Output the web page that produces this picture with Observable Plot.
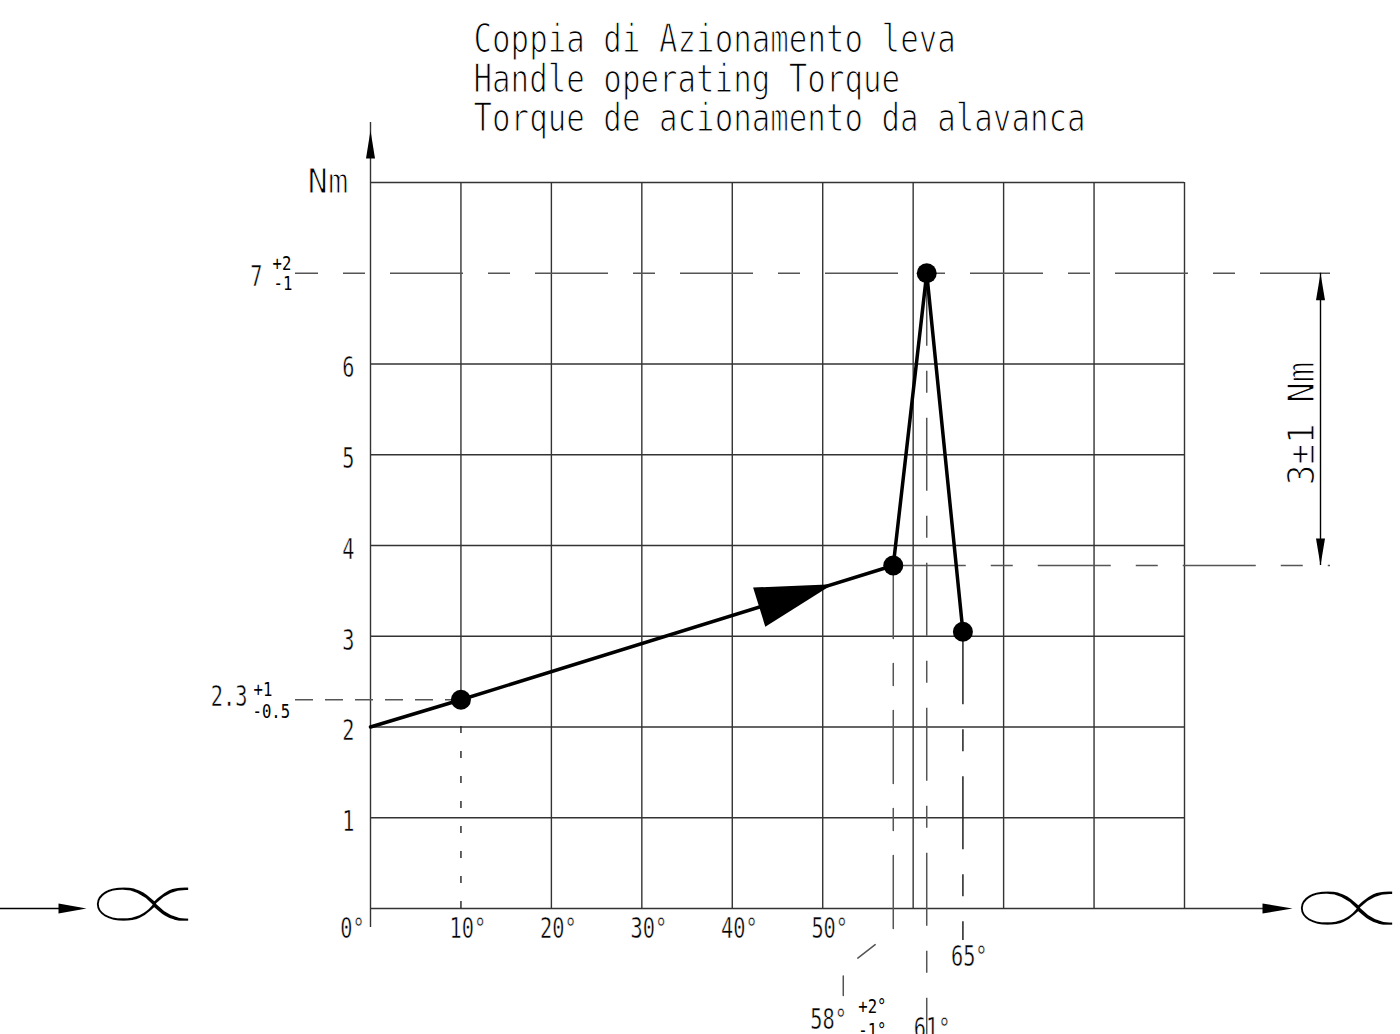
<!DOCTYPE html>
<html><head><meta charset="utf-8">
<script src="https://cdn.jsdelivr.net/npm/d3@7"></script>
<script src="https://cdn.jsdelivr.net/npm/@observablehq/plot@0.6"></script>
<style>html,body{margin:0;padding:0;overflow:hidden;background:#fff}</style>
</head><body><div id="chart"></div>
<script>
// ---- data ----
const titleLines = ["Coppia di Azionamento leva", "Handle operating Torque", "Torque de acionamento da alavanca"];
const angleGrid = [0, 10, 20, 30, 40, 50, 60, 70, 80, 90];
const torqueGrid = [0, 1, 2, 3, 4, 5, 6, 7, 8];
const angleTicks = [10, 20, 30, 40, 50];
const torqueTicks = [1, 2, 3, 4, 5, 6];
const curveAngle = [0, 10, 57.8, 61.5, 65.5];
const curveTorque = [2, 2.3, 3.78, 7, 3.05];
const keyAngleLabels = ["58°", "61°", "65°"];
const angleTol = ["+2°", "-1°"];
const peakLabel = "7", peakTol = ["+2", "-1"];
const lowLabel = "2.3", lowTol = ["+1", "-0.5"];
const torqueUnit = "Nm";
const bandLabel = "3±1 Nm";
const alphaSymbol = "∝";

// ---- layout ----
const W = 1400, H = 1034, mL = 370, mR = 216, mT = 182, mB = 126;
const xDom = [0, 90], yDom = [0, 8];
const kx = (W - mL - mR) / (xDom[1] - xDom[0]);
const ky = (H - mT - mB) / (yDom[1] - yDom[0]);
const offX = (v, px) => v + px / kx;      // shift a data x by px pixels (right +)
const offY = (v, px) => v - px / ky;      // shift a data y by px pixels (down +)

const pts = curveAngle.map((a, i) => ({a, t: curveTorque[i]}));
const [p0, p10, p58, p61, p65] = pts;

function head(theta, L, Wd) {
  const c = Math.cos(theta), s = Math.sin(theta);
  return {draw(ctx) {
    ctx.moveTo(0, 0);
    ctx.lineTo(-L * c - Wd * s, -L * s + Wd * c);
    ctx.lineTo(-L * c + Wd * s, -L * s - Wd * c);
    ctx.closePath();
  }};
}
// flow arrow on the rising segment
const fr = 0.86;
const flowTip = {a: p10.a + fr * (p58.a - p10.a), t: p10.t + fr * (p58.t - p10.t)};
const flowTheta = Math.atan2(-(p58.t - p10.t) * ky, (p58.a - p10.a) * kx);

const gridC = "#333", leadC = "#555";
const chain = "73 25 22 25";
const dimX = offX(90, 136);
const leadEnd = offX(90, 146);
const leftStart = offX(0, -75);

const plot = Plot.plot({
  width: W, height: H,
  marginLeft: mL, marginRight: mR, marginTop: mT, marginBottom: mB,
  x: {domain: xDom},
  y: {domain: yDom},
  style: {fontFamily: "'DejaVu Sans Mono', monospace", fontSize: "29px", background: "white", color: "black"},
  marks: [
    // grid (the peak level is shown by its dashed leader instead of a grid line)
    Plot.ruleX(angleGrid.filter(a => a !== 0), {x: d => d, y1: d => d === p10.a ? p10.t : 0, y2: yDom[1], stroke: gridC, strokeWidth: 1.4}),
    Plot.ruleY(torqueGrid.filter(t => t !== p61.t), {y: d => d, x1: xDom[0], x2: xDom[1], stroke: gridC, strokeWidth: 1.4}),
    // axes extensions
    Plot.ruleX([0], {y1: offY(0, 19), y2: offY(yDom[1], -60), stroke: gridC, strokeWidth: 1.4}),
    Plot.ruleY([0], {x1: xDom[1], x2: offX(xDom[1], 100), stroke: gridC, strokeWidth: 1.4}),
    Plot.ruleY([0], {x1: offX(0, -370), x2: offX(0, -290), stroke: "black", strokeWidth: 1.4}),
    Plot.dot([{x: 0, y: offY(yDom[1], -52)}], {x: "x", y: "y", symbol: head(-Math.PI / 2, 28, 4.5), fill: "black"}),
    Plot.dot([{x: offX(xDom[1], 108), y: 0}], {x: "x", y: "y", symbol: head(0, 30, 5), fill: "black"}),
    Plot.dot([{x: offX(0, -284), y: 0}], {x: "x", y: "y", symbol: head(0, 28, 5), fill: "black"}),
    // leader lines
    Plot.ruleY([p61.t], {x1: leftStart, x2: leadEnd, stroke: leadC, strokeWidth: 1.5, strokeDasharray: chain, strokeDashoffset: 50}),
    Plot.ruleY([p58.t], {x1: p58.a, x2: leadEnd, stroke: leadC, strokeWidth: 1.5, strokeDasharray: chain}),
    Plot.ruleY([p10.t], {x1: leftStart, x2: p10.a, stroke: leadC, strokeWidth: 1.5, strokeDasharray: "18 12"}),
    Plot.ruleX([p10.a], {y1: 0, y2: p10.t, stroke: "#222", strokeWidth: 1.4, strokeDasharray: "7 18"}),
    Plot.line([
      {a: p58.a, t: p58.t}, {a: p58.a, t: offY(0, 22)},
      {a: offX(p58.a, -50), t: offY(0, 61)}, {a: offX(p58.a, -50), t: offY(0, 87)}
    ], {x: "a", y: "t", stroke: leadC, strokeWidth: 1.5, strokeDasharray: chain}),
    Plot.ruleX([p61.a], {y1: p61.t, y2: offY(0, 140), stroke: leadC, strokeWidth: 1.5, strokeDasharray: chain}),
    Plot.ruleX([p65.a], {y1: p65.t, y2: offY(0, 32), stroke: "#222", strokeWidth: 1.5, strokeDasharray: chain}),
    // dimension
    Plot.ruleX([dimX], {y1: p58.t, y2: p61.t, stroke: "black", strokeWidth: 1.4}),
    Plot.dot([{x: dimX, y: p61.t}], {x: "x", y: "y", symbol: head(-Math.PI / 2, 27, 4.5), fill: "black"}),
    Plot.dot([{x: dimX, y: p58.t}], {x: "x", y: "y", symbol: head(Math.PI / 2, 27, 4.5), fill: "black"}),
    Plot.text([bandLabel], {x: dimX, y: (p58.t + p61.t) / 2, text: d => d, dx: -19, dy: 4, rotate: -90, fontSize: 38}),
    // curve
    Plot.line(pts, {x: "a", y: "t", stroke: "black", strokeWidth: 3.5}),
    Plot.dot(pts.slice(1), {x: "a", y: "t", r: 10, fill: "black"}),
    Plot.dot([flowTip], {x: "a", y: "t", symbol: head(flowTheta, 77, 20.5), fill: "black"}),
    // axes labels
    Plot.axisY({ticks: torqueTicks, tickSize: 0, tickPadding: 16, fontSize: 29, dy: 4, label: null}),
    Plot.axisX({ticks: angleTicks, tickFormat: d => `${d}°`, tickSize: 0, tickPadding: 9, fontSize: 29, dx: 7, label: null}),
    Plot.axisX({ticks: [0], tickFormat: d => `${d}°`, tickSize: 0, tickPadding: 9, fontSize: 29, dx: -18, label: null}),
    Plot.text([torqueUnit], {x: 0, y: yDom[1], text: d => d, dx: -22, textAnchor: "end", fontSize: 34}),
    // tolerance labels
    Plot.text([peakLabel], {x: 0, y: p61.t, text: d => d, dx: -108, dy: 3, textAnchor: "end", fontSize: 29}),
    Plot.text([peakTol[0]], {x: 0, y: p61.t, text: d => d, dx: -98, dy: -10, textAnchor: "start", fontSize: 20}),
    Plot.text([peakTol[1]], {x: 0, y: p61.t, text: d => d, dx: -97, dy: 10, textAnchor: "start", fontSize: 20}),
    Plot.text([lowLabel], {x: 0, y: p10.t, text: d => d, dx: -123, dy: -3, textAnchor: "end", fontSize: 29}),
    Plot.text([lowTol[0]], {x: 0, y: p10.t, text: d => d, dx: -117, dy: -10, textAnchor: "start", fontSize: 20}),
    Plot.text([lowTol[1]], {x: 0, y: p10.t, text: d => d, dx: -118, dy: 12, textAnchor: "start", fontSize: 20}),
    Plot.text([keyAngleLabels[0]], {x: p58.a, y: 0, text: d => d, dx: -83, dy: 111, textAnchor: "start", fontSize: 29}),
    Plot.text([angleTol[0]], {x: p58.a, y: 0, text: d => d, dx: -35, dy: 98, textAnchor: "start", fontSize: 20}),
    Plot.text([angleTol[1]], {x: p58.a, y: 0, text: d => d, dx: -35, dy: 122, textAnchor: "start", fontSize: 20}),
    Plot.text([keyAngleLabels[1]], {x: p61.a, y: 0, text: d => d, dx: -13, dy: 120, textAnchor: "start", fontSize: 29}),
    Plot.text([keyAngleLabels[2]], {x: p65.a, y: 0, text: d => d, dx: -12, dy: 48, textAnchor: "start", fontSize: 29}),
    // alpha symbols
    Plot.text([alphaSymbol], {x: offX(0, -228), y: 0, text: d => d, dy: -7, fontSize: 100, fontFamily: "DejaVu Sans"}),
    Plot.text([alphaSymbol], {x: offX(xDom[1], 162), y: 0, text: d => d, dy: -3, fontSize: 100, fontFamily: "DejaVu Sans"}),
    // title
    ...titleLines.map((line, i) => Plot.text([line], {frameAnchor: "top-left", text: d => d, dx: 103, dy: -158 + i * 39.5, lineAnchor: "top", textAnchor: "start", fontSize: 39}))
  ]
});
document.getElementById("chart").append(plot);

// condense and thin glyphs to mimic the narrow technical-drawing lettering
const squeeze = {39: 0.79, 38: 0.9, 34: 1.0, 29: 0.70, 20: 0.78};
const thin = {39: 1.25, 38: 1.2, 34: 1.0, 29: 0.5, 20: 0};
plot.querySelectorAll("text").forEach(el => {
  const fs = Math.round(parseFloat(getComputedStyle(el).fontSize));
  if (el.textContent === alphaSymbol) {
    el.setAttribute("textLength", 142);
    el.setAttribute("lengthAdjust", "spacingAndGlyphs");
    el.style.stroke = "white";
    el.style.paintOrder = "normal";
    el.style.strokeWidth = "4px";
    return;
  }
  if (thin[fs]) {
    el.style.stroke = "white";
    el.style.paintOrder = "normal";
    el.style.strokeWidth = thin[fs] + "px";
  }
  const f = squeeze[fs];
  if (f && f !== 1) {
    const len = el.getComputedTextLength();
    el.setAttribute("textLength", (len * f).toFixed(1));
    el.setAttribute("lengthAdjust", "spacingAndGlyphs");
  }
});
</script>
</body></html>
